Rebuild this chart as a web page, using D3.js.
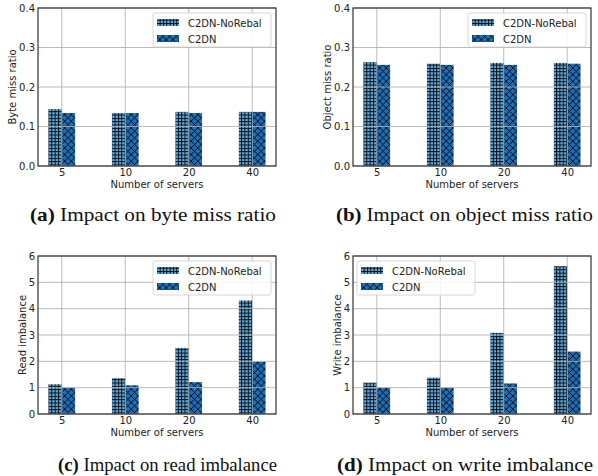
<!DOCTYPE html>
<html>
<head>
<meta charset="utf-8">
<script src="https://cdn.jsdelivr.net/npm/d3@7"></script>
<style>
  body { margin: 0; background: #fff; }
  svg { display: block; }
  .tick text { font-family: "DejaVu Sans", sans-serif; font-size: 10px; fill: #222; }
</style>
</head>
<body>
<svg id="fig" width="598" height="476"></svg>
<script>
// categories and series
var servers = ['5', '10', '20', '40'];
var seriesNames = ['C2DN-NoRebal', 'C2DN'];

var byteNoRebal = [0.144, 0.134, 0.137, 0.137];
var byteC2DN = [0.134, 0.134, 0.134, 0.137];
var objNoRebal = [0.263, 0.259, 0.261, 0.261];
var objC2DN = [0.256, 0.256, 0.256, 0.259];
var readNoRebal = [1.13, 1.36, 2.51, 4.31];
var readC2DN = [1.0, 1.09, 1.21, 1.99];
var writeNoRebal = [1.19, 1.38, 3.08, 5.61];
var writeC2DN = [1.0, 1.0, 1.16, 2.37];

var ratioTicks = [0.0, 0.1, 0.2, 0.3, 0.4];
var imbTicks = [0, 1, 2, 3, 4, 5, 6];

var svg = d3.select('#fig')
var W = 238, H = 158

var defs = svg.append('defs')
// "+" hatch for NoRebal
var p1 = defs.append('pattern').attr('id', 'hPlus')
  .attr('patternUnits', 'userSpaceOnUse').attr('width', 3.33).attr('height', 3.33)
p1.append('rect').attr('width', 3.33).attr('height', 3.33).attr('fill', '#5ea9dd')
p1.append('line').attr('x1', 0.5).attr('x2', 0.5).attr('y1', 0).attr('y2', 3.33).attr('stroke', '#000').attr('stroke-width', 0.9)
p1.append('line').attr('y1', 0.5).attr('y2', 0.5).attr('x1', 0).attr('x2', 3.33).attr('stroke', '#000').attr('stroke-width', 0.9)
// "x" hatch for C2DN
var p2 = defs.append('pattern').attr('id', 'hX')
  .attr('patternUnits', 'userSpaceOnUse').attr('width', 6.66).attr('height', 6.66)
p2.append('rect').attr('width', 6.66).attr('height', 6.66).attr('fill', '#1f6fb8')
p2.append('path').attr('d', 'M0,0L6.66,6.66M6.66,0L0,6.66M-1,1L1,-1M5.66,7.66L7.66,5.66')
  .attr('stroke', '#000').attr('stroke-width', 0.9)

var fills = ['url(#hPlus)', 'url(#hX)']

var panels = [
  {x: 38, y: 8, a: byteNoRebal, b: byteC2DN, ticks: ratioTicks, fmt: d3.format('.1f'), ylab: 'Byte miss ratio', ylx: 12,
   leg: 'right', cap: 'Impact on byte miss ratio', tag: '(a)', capx: 30, capy: 221, capw: 246, caps: 19.5},
  {x: 353, y: 8, a: objNoRebal, b: objC2DN, ticks: ratioTicks, fmt: d3.format('.1f'), ylab: 'Object miss ratio', ylx: 327,
   leg: 'right', cap: 'Impact on object miss ratio', tag: '(b)', capx: 336, capy: 221, capw: 257, caps: 19.5},
  {x: 38, y: 256, a: readNoRebal, b: readC2DN, ticks: imbTicks, fmt: d3.format('d'), ylab: 'Read imbalance', ylx: 22,
   leg: 'right', cap: 'Impact on read imbalance', tag: '(c)', capx: 58, capy: 471, capw: 219, caps: 18.5},
  {x: 353, y: 256, a: writeNoRebal, b: writeC2DN, ticks: imbTicks, fmt: d3.format('d'), ylab: 'Write imbalance', ylx: 337,
   leg: 'left', cap: 'Impact on write imbalance', tag: '(d)', capx: 337, capy: 471, capw: 256, caps: 18.5}
]

panels.forEach(function(p) {
  var g = svg.append('g').attr('transform', 'translate(' + p.x + ',' + p.y + ')')
  var x = d3.scaleLinear().domain([-0.375, 3.375]).range([0, W])
  var y = d3.scaleLinear().domain([0, d3.max(p.ticks)]).range([H, 0])
  var bw = x(0.21) - x(0)

  // bars
  ;[p.a, p.b].forEach(function(vals, si) {
    g.selectAll('.bar' + si).data(vals).enter().append('rect')
      .attr('x', function(d, i) { return si == 0 ? x(i) - bw : x(i) })
      .attr('y', function(d) { return y(d) })
      .attr('width', bw)
      .attr('height', function(d) { return H - y(d) })
      .attr('fill', fills[si])
  })

  // grid on top
  g.selectAll('.vg').data(servers).enter().append('line')
    .attr('x1', function(d, i) { return x(i) }).attr('x2', function(d, i) { return x(i) })
    .attr('y1', 0).attr('y2', H).attr('stroke', '#b0b0b0').attr('stroke-width', 1).attr('opacity', 0.85)
  g.selectAll('.hg').data(p.ticks).enter().append('line')
    .attr('y1', function(d) { return y(d) }).attr('y2', function(d) { return y(d) })
    .attr('x1', 0).attr('x2', W).attr('stroke', '#b0b0b0').attr('stroke-width', 1).attr('opacity', 0.85)

  // axes
  var yAx = g.append('g').call(d3.axisLeft(y).tickValues(p.ticks).tickFormat(p.fmt).tickSize(0).tickPadding(3))
  yAx.select('.domain').remove()
  var xAx = g.append('g').attr('transform', 'translate(0,' + H + ')')
    .call(d3.axisBottom(x).tickValues([0, 1, 2, 3]).tickFormat(function(d) { return servers[d] }).tickSize(0).tickPadding(3))
  xAx.select('.domain').remove()

  g.append('rect').attr('width', W).attr('height', H).attr('fill', 'none')
    .attr('stroke', '#333').attr('stroke-width', 1.2)

  g.append('text').attr('x', W / 2).attr('y', H + 21.5).attr('text-anchor', 'middle')
    .style('font-family', 'DejaVu Sans').style('font-size', '10px').attr('fill', '#222')
    .text('Number of servers')
  svg.append('text').attr('transform', 'translate(' + p.ylx + ',' + (p.y + H / 2) + ') rotate(-90)')
    .attr('text-anchor', 'middle').attr('dy', '0.35em')
    .style('font-family', 'DejaVu Sans').style('font-size', '10px').attr('fill', '#222')
    .text(p.ylab)

  // legend
  var lw = 118, lh = 34
  var lx = p.leg == 'right' ? W - lw - 5 : 4
  var lg = g.append('g').attr('transform', 'translate(' + lx + ',5)')
  lg.append('rect').attr('width', lw).attr('height', lh).attr('rx', 2.5)
    .attr('fill', 'white').attr('fill-opacity', 0.85).attr('stroke', '#ccc').attr('stroke-width', 0.8)
  seriesNames.forEach(function(n, i) {
    lg.append('rect').attr('x', 4).attr('y', 6 + i * 16).attr('width', 22).attr('height', 7).attr('fill', fills[i])
    lg.append('text').attr('x', 35).attr('y', 13.5 + i * 16)
      .style('font-family', 'DejaVu Sans').style('font-size', '10px').attr('fill', '#222').text(n)
  })

  // caption
  var cap = svg.append('text').attr('x', p.capx).attr('y', p.capy)
    .attr('textLength', p.capw).attr('lengthAdjust', 'spacingAndGlyphs')
    .style('font-family', 'Liberation Serif, serif').style('font-size', p.caps + 'px').attr('fill', '#111')
  cap.append('tspan').style('font-weight', 'bold').text(p.tag)
  cap.append('tspan').text(' ' + p.cap)
})
</script>
</body>
</html>
